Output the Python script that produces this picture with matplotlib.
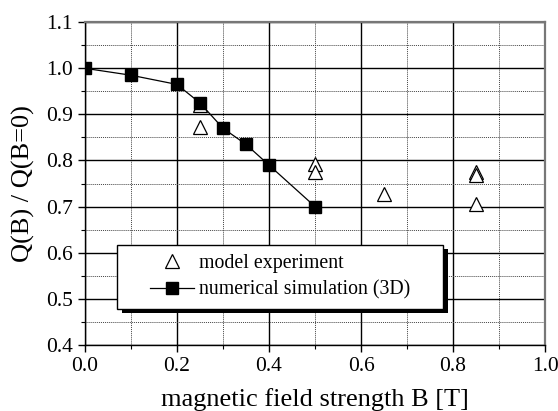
import numpy as np
import matplotlib.pyplot as plt
from matplotlib.ticker import MultipleLocator
from matplotlib.patches import Rectangle

plt.rcParams['font.family'] = ['Liberation Serif', 'DejaVu Serif']

# measured points (model experiment)
b_exp = [0.25, 0.25, 0.50, 0.50, 0.65, 0.85, 0.85, 0.85]
q_exp = [0.920, 0.872, 0.793, 0.774, 0.728, 0.774, 0.769, 0.706]

# 3D numerical simulation
b_sim = [0.0, 0.1, 0.2, 0.25, 0.3, 0.35, 0.4, 0.5]
q_sim = [1.000, 0.985, 0.965, 0.925, 0.870, 0.835, 0.790, 0.700]

fig = plt.figure(figsize=(5.58, 4.11), dpi=100)
ax = fig.add_axes([0.152, 0.161, 0.825, 0.785])

ax.plot(b_exp, q_exp, linestyle='none', marker='^', markersize=10,
        markerfacecolor='white', markeredgecolor='black', markeredgewidth=0.9,
        label='model experiment', zorder=3)
ax.plot(b_sim, q_sim, color='black', linewidth=0.9, marker='s', markersize=8,
        markerfacecolor='black', label='numerical simulation (3D)', zorder=4)

ax.set_xlim(0.0, 1.0)
ax.set_ylim(0.4, 1.1)
ax.xaxis.set_major_locator(MultipleLocator(0.2))
ax.xaxis.set_minor_locator(MultipleLocator(0.1))
ax.yaxis.set_major_locator(MultipleLocator(0.1))
ax.yaxis.set_minor_locator(MultipleLocator(0.05))
ax.xaxis.set_major_formatter(plt.FormatStrFormatter('%.1f'))
ax.yaxis.set_major_formatter(plt.FormatStrFormatter('%.1f'))

ax.grid(which='major', color='black', linewidth=1.0, linestyle='-')
ax.grid(which='minor', color='#444444', linewidth=0.7, linestyle=(0, (1, 1)))
ax.set_axisbelow(True)

ax.tick_params(which='major', direction='out', length=5, width=1.0, labelsize=15.5)
ax.tick_params(which='minor', direction='out', length=3, width=0.8)
for side in ['top', 'right']:
    ax.spines[side].set_color('#777777')
    ax.spines[side].set_linewidth(1.6)
for side in ['left', 'bottom']:
    ax.spines[side].set_linewidth(1.0)

ax.set_xlabel('magnetic field strength B [T]', fontsize=19, labelpad=9)
ax.set_ylabel('Q(B) / Q(B=0)', fontsize=19, labelpad=8)

# legend box with a solid drop shadow, legend entries centred inside it
box_x, box_y, box_w, box_h = 0.070, 0.111, 0.709, 0.199
ax.add_patch(Rectangle((box_x + 0.011, box_y - 0.013), box_w, box_h,
                       transform=ax.transAxes, facecolor='black',
                       edgecolor='none', zorder=5))
ax.add_patch(Rectangle((box_x, box_y), box_w, box_h, transform=ax.transAxes,
                       facecolor='white', edgecolor='black', linewidth=1.0,
                       zorder=5.5))
leg = ax.legend(loc='center', bbox_to_anchor=(box_x + box_w / 2, box_y + box_h / 2),
                fontsize=14.3, frameon=False, handlelength=2.25,
                labelspacing=0.35, handletextpad=0.25, borderpad=0)
leg.set_zorder(6)

fig.savefig('out.png', dpi=100)
